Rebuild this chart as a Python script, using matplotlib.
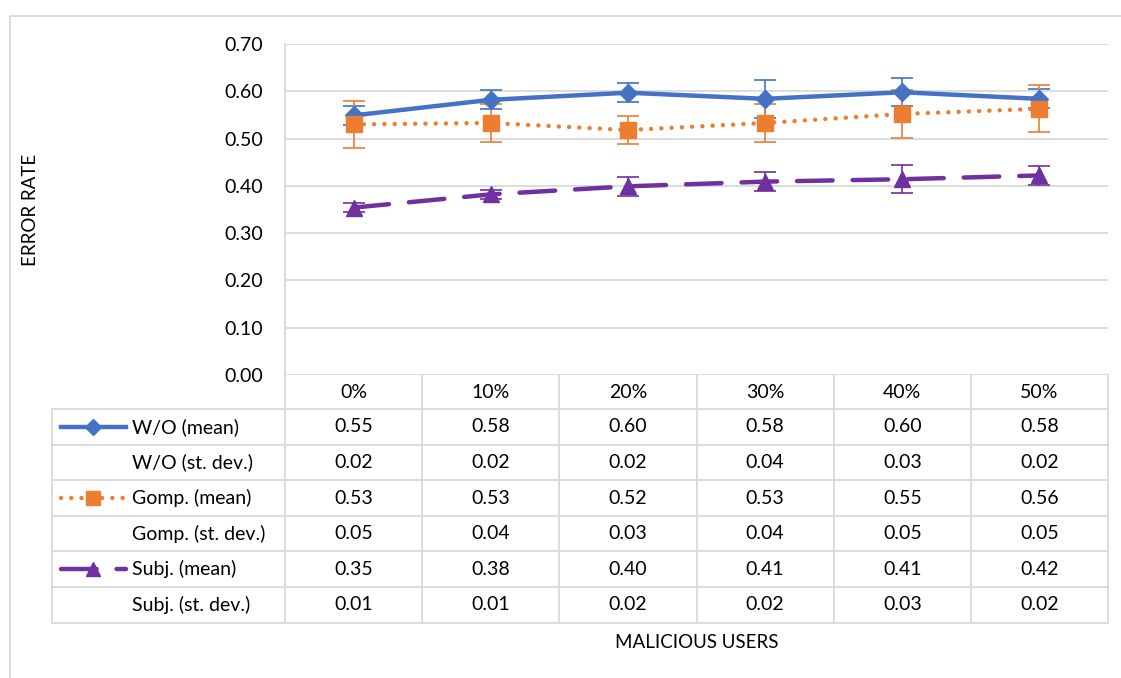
import matplotlib.pyplot as plt
from matplotlib.lines import Line2D

plt.rcParams['font.family'] = ['Lato', 'DejaVu Sans']

categories = ["0%", "10%", "20%", "30%", "40%", "50%"]
wo_mean = [0.549, 0.582, 0.597, 0.584, 0.598, 0.584]
wo_sd = [0.02, 0.02, 0.02, 0.04, 0.03, 0.02]
gomp_mean = [0.530, 0.533, 0.518, 0.533, 0.552, 0.563]
gomp_sd = [0.05, 0.04, 0.03, 0.04, 0.05, 0.05]
subj_mean = [0.354, 0.382, 0.399, 0.409, 0.414, 0.422]
subj_sd = [0.01, 0.01, 0.02, 0.02, 0.03, 0.02]
yticks = [0.0, 0.1, 0.2, 0.3, 0.4, 0.5, 0.6, 0.7]

series = [
    ("W/O", wo_mean, wo_sd, dict(color="#4472C4", marker="D", ms=9.5, ls="-", lw=3.2)),
    ("Gomp.", gomp_mean, gomp_sd, dict(color="#ED7D31", marker="s", ms=12, ls=(0, (0.01, 2.3)), lw=3.2)),
    ("Subj.", subj_mean, subj_sd, dict(color="#7030A0", marker="^", ms=12, ls=(0, (8, 4.5)), lw=3.2)),
]

W, H = 1121, 678
fig = plt.figure(figsize=(W / 100, H / 100), dpi=100)
grid_c = "#D9D9D9"
fs = 14

# plot area in pixels
left, right, top, bottom = 285, 1108, 44, 375
ax = fig.add_axes([left / W, 1 - bottom / H, (right - left) / W, (bottom - top) / H])
x = list(range(len(categories)))
for name, m, sd, st in series:
    ax.errorbar(x, m, yerr=sd, fmt="none", ecolor=st["color"], elinewidth=1.2,
                capsize=8, capthick=1.2, zorder=3)
    ax.plot(x, m, color=st["color"], marker=st["marker"], ms=st["ms"], ls=st["ls"],
            lw=st["lw"], mec=st["color"], dash_capstyle="round", zorder=4)

ax.set_xlim(-0.5, len(categories) - 0.5)
ax.set_ylim(0, 0.7)
ax.set_yticks(yticks)
ax.set_yticklabels([f"{v:.2f}" for v in yticks], fontsize=fs)
ax.set_xticks([])
ax.tick_params(axis="y", length=0, pad=16)
ax.grid(axis="y", color=grid_c, lw=1.3)
ax.set_axisbelow(True)
for s in ["top", "right", "bottom"]:
    ax.spines[s].set_visible(False)
ax.spines["left"].set_color(grid_c)
ax.spines["left"].set_linewidth(1.3)

# overlay in pixel coordinates for the data table and frame
ov = fig.add_axes([0, 0, 1, 1])
ov.set_xlim(0, W)
ov.set_ylim(H, 0)
ov.axis("off")
ov.patch.set_visible(False)

# outer chart frame
ov.plot([10, 10, W + 5], [H + 5, 16, 16], color=grid_c, lw=1.3)

tab_left = 52
row_h = 35.6
header_top = bottom
rows_top = 409
n_rows = 6
tab_bottom = rows_top + n_rows * row_h
cw = (right - left) / len(categories)

# vertical lines
for k in range(len(categories) + 1):
    xv = left + k * cw
    ov.plot([xv, xv], [header_top, tab_bottom], color=grid_c, lw=1.3)
ov.plot([tab_left, tab_left], [rows_top, tab_bottom], color=grid_c, lw=1.3)
# horizontal lines
for r in range(n_rows + 1):
    yv = rows_top + r * row_h
    ov.plot([tab_left, right], [yv, yv], color=grid_c, lw=1.3)

# header
for k, c in enumerate(categories):
    ov.text(left + (k + 0.5) * cw, (header_top + rows_top) / 2, c, ha="center", va="center", fontsize=fs)

# rows
r = 0
for name, m, sd, st in series:
    for label, vals, sample in [(f"{name} (mean)", m, True), (f"{name} (st. dev.)", sd, False)]:
        yc = rows_top + (r + 0.5) * row_h
        ov.text(132, yc, label, ha="left", va="center", fontsize=fs)
        for k, v in enumerate(vals):
            ov.text(left + (k + 0.5) * cw, yc, f"{v:.2f}", ha="center", va="center", fontsize=fs)
        if sample:
            ov.add_line(Line2D([61, 126], [yc, yc], color=st["color"], ls=st["ls"], lw=st["lw"],
                               dash_capstyle="round"))
            ov.add_line(Line2D([93], [yc], color=st["color"], marker=st["marker"],
                               ms=st["ms"] * 0.85, mec=st["color"], ls="none"))
        r += 1

ov.text(30, (top + bottom) / 2, "ERROR RATE", rotation=90, ha="center", va="center", fontsize=fs - 0.5)
ov.text((left + right) / 2, 643, "MALICIOUS USERS", ha="center", va="center", fontsize=fs - 0.5)

fig.savefig("out.png", dpi=100)
